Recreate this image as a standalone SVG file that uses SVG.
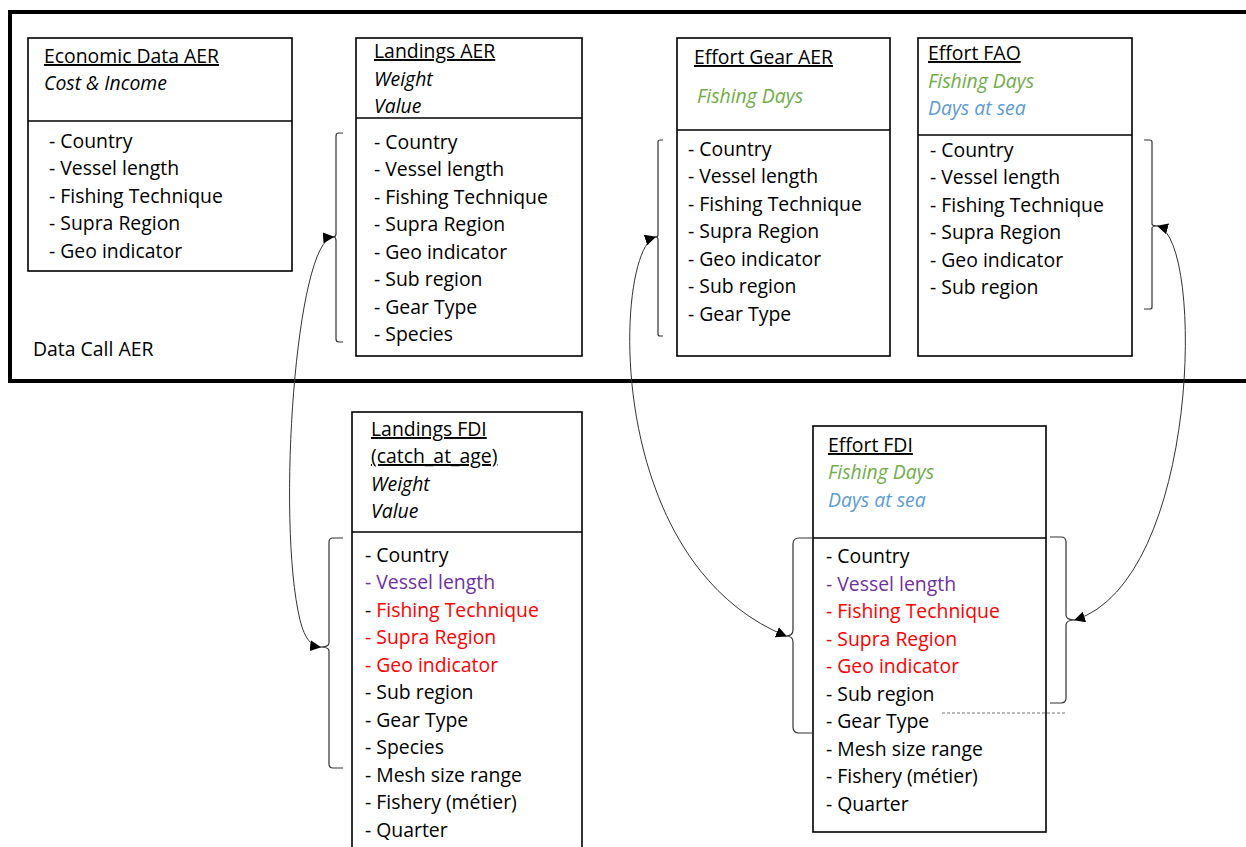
<svg xmlns="http://www.w3.org/2000/svg" width="1246" height="847" viewBox="0 0 1246 847">
<style>
text{font-family:"Open Sans","Noto Sans",sans-serif;font-size:19.4px;fill:#000}
.t{text-decoration:underline}
.i{font-style:italic}
.g{fill:#70AD47}
.b{fill:#5B9BD5}
.p{fill:#7030A0}
.r{fill:#FF0000}
.box{fill:#fff;stroke:#000;stroke-width:1.6}
.sep{stroke:#000;stroke-width:1.6}
.br{fill:none;stroke:#333;stroke-width:1.2}
.cv{fill:none;stroke:#333;stroke-width:1}
</style>
<defs>
<marker id="ah" viewBox="0 0 10 10" refX="9" refY="5" markerWidth="11" markerHeight="11" markerUnits="userSpaceOnUse" orient="auto-start-reverse">
<path d="M0,0 L10,5 L0,10 z" fill="#000"/>
</marker>
</defs>
<rect width="1246" height="847" fill="#fff"/>
<rect x="10" y="12" width="1250" height="369" fill="none" stroke="#000" stroke-width="4"/>
<text x="33" y="356">Data Call AER</text>

<g id="economic">
<rect class="box" x="28" y="38" width="264" height="233"/>
<line class="sep" x1="28" y1="121" x2="292" y2="121"/>
<text class="t" x="44" y="63">Economic Data AER</text>
<text class="i" x="44" y="90">Cost &amp; Income</text>
<text x="49" y="148">- Country</text>
<text x="49" y="175">- Vessel length</text>
<text x="49" y="203">- Fishing Technique</text>
<text x="49" y="230">- Supra Region</text>
<text x="49" y="258">- Geo indicator</text>
</g>

<g id="landings-aer">
<rect class="box" x="356" y="38" width="226" height="318"/>
<line class="sep" x1="356" y1="118" x2="582" y2="118"/>
<text class="t" x="374" y="58">Landings AER</text>
<text class="i" x="374" y="86">Weight</text>
<text class="i" x="374" y="113">Value</text>
<text x="374" y="149">- Country</text>
<text x="374" y="176">- Vessel length</text>
<text x="374" y="204">- Fishing Technique</text>
<text x="374" y="231">- Supra Region</text>
<text x="374" y="259">- Geo indicator</text>
<text x="374" y="286">- Sub region</text>
<text x="374" y="314">- Gear Type</text>
<text x="374" y="341">- Species</text>
</g>

<g id="effort-gear-aer">
<rect class="box" x="677" y="38" width="213" height="318"/>
<line class="sep" x1="677" y1="130" x2="890" y2="130"/>
<text class="t" x="694" y="64">Effort Gear AER</text>
<text class="i g" x="697" y="103">Fishing Days</text>
<text x="688" y="156">- Country</text>
<text x="688" y="183">- Vessel length</text>
<text x="688" y="211">- Fishing Technique</text>
<text x="688" y="238">- Supra Region</text>
<text x="688" y="266">- Geo indicator</text>
<text x="688" y="293">- Sub region</text>
<text x="688" y="321">- Gear Type</text>
</g>

<g id="effort-fao">
<rect class="box" x="918" y="38" width="214" height="318"/>
<line class="sep" x1="918" y1="135" x2="1132" y2="135"/>
<text class="t" x="928" y="60">Effort FAO</text>
<text class="i g" x="928" y="88">Fishing Days</text>
<text class="i b" x="928" y="115">Days at sea</text>
<text x="930" y="157">- Country</text>
<text x="930" y="184">- Vessel length</text>
<text x="930" y="212">- Fishing Technique</text>
<text x="930" y="239">- Supra Region</text>
<text x="930" y="267">- Geo indicator</text>
<text x="930" y="294">- Sub region</text>
</g>

<g id="landings-fdi">
<rect class="box" x="352" y="412" width="230" height="445"/>
<line class="sep" x1="352" y1="532" x2="582" y2="532"/>
<text class="t" x="371" y="436">Landings FDI</text>
<text class="t" x="371" y="463">(catch_at_age)</text>
<text class="i" x="371" y="491">Weight</text>
<text class="i" x="371" y="518">Value</text>
<text x="365" y="562">- Country</text>
<text class="p" x="365" y="589">- Vessel length</text>
<text x="365" y="617">- <tspan class="r">Fishing Technique</tspan></text>
<text class="r" x="365" y="644">- Supra Region</text>
<text class="r" x="365" y="672">- Geo indicator</text>
<text x="365" y="699">- Sub region</text>
<text x="365" y="727">- Gear Type</text>
<text x="365" y="754">- Species</text>
<text x="365" y="782">- Mesh size range</text>
<text x="365" y="809">- Fishery (métier)</text>
<text x="365" y="837">- Quarter</text>
</g>

<g id="effort-fdi">
<rect class="box" x="813" y="426" width="233" height="406"/>
<line class="sep" x1="813" y1="538" x2="1046" y2="538"/>
<text class="t" x="828" y="452">Effort FDI</text>
<text class="i g" x="828" y="479">Fishing Days</text>
<text class="i b" x="828" y="507">Days at sea</text>
<text x="826" y="563">- Country</text>
<text class="p" x="826" y="591">- Vessel length</text>
<text class="r" x="826" y="618">- Fishing Technique</text>
<text class="r" x="826" y="646">- Supra Region</text>
<text class="r" x="826" y="673">- Geo indicator</text>
<text x="826" y="701">- Sub region</text>
<text x="826" y="728">- Gear Type</text>
<text x="826" y="756">- Mesh size range</text>
<text x="826" y="783">- Fishery (métier)</text>
<text x="826" y="811">- Quarter</text>
</g>

<g id="connectors">
<path class="br" d="M343,133 H339 Q336,133 336,136 V234 Q336,237 333,237 Q336,237 336,240 V339 Q336,342 339,342 H343"/>
<path class="br" d="M343,538 H333 Q329,538 329,542 V643 Q329,647 320,647 Q329,647 329,651 V764 Q329,768 333,768 H343"/>
<path class="br" d="M663,140 H660 Q658,140 658,142 V235 Q658,237 655,237 Q658,237 658,239 V334 Q658,336 660,336 H663"/>
<path class="br" d="M812,538 H799 Q793,538 793,544 V630 Q793,636 786,636 Q793,636 793,642 V727 Q793,733 799,733 H812"/>
<path class="br" d="M1050,537 H1061 Q1066,537 1066,542 V615 Q1066,620 1075,620 Q1066,620 1066,625 V698 Q1066,703 1061,703 H1050"/>
<path class="br" d="M1144,140 H1150 Q1152,140 1152,142 V224 Q1152,226 1158,226 Q1152,226 1152,228 V307 Q1152,309 1150,309 H1144"/>
<path class="cv" d="M333,237 C296,240 276,520 300,620 C305,640 312,646 320,647" marker-start="url(#ah)" marker-end="url(#ah)"/>
<path class="cv" d="M655,237 C615,250 600,560 786,636" marker-start="url(#ah)" marker-end="url(#ah)"/>
<path class="cv" d="M1158,226 C1205,240 1200,580 1075,620" marker-start="url(#ah)" marker-end="url(#ah)"/>
<line x1="942" y1="713" x2="1067" y2="713" stroke="#777" stroke-width="1.2" stroke-dasharray="3,2"/>
</g>
</svg>
